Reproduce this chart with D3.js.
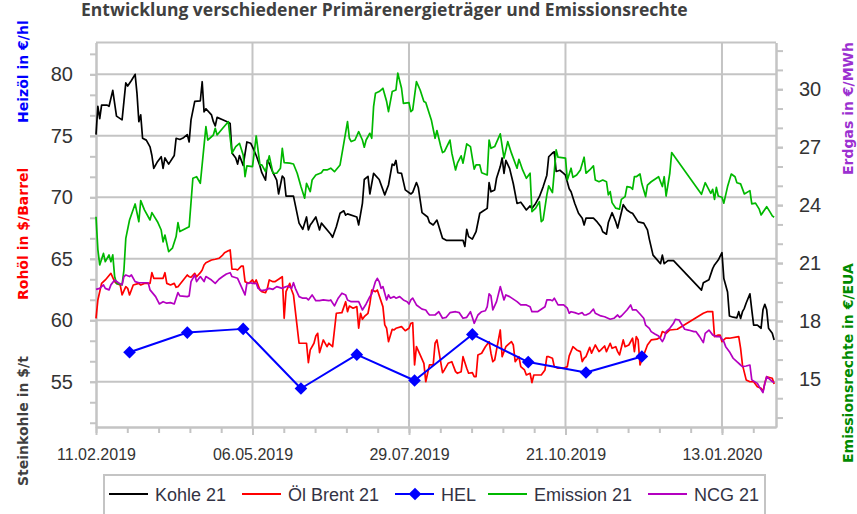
<!DOCTYPE html>
<html>
<head>
<meta charset="utf-8">
<script src="https://cdn.jsdelivr.net/npm/d3@7"></script>
<style>
body { margin: 0; background: #fff; }
</style>
</head>
<body>
<svg id="chart"></svg>
<script>
// values (date, value)
var kohle = [
  ["2019-02-11",75.1],["2019-02-12",77.4],["2019-02-13",76.4],["2019-02-14",77.5],["2019-02-17",77.5],["2019-02-18",77.4],
  ["2019-02-20",78.7],["2019-02-22",76.6],["2019-02-25",76.3],["2019-02-26",77.8],["2019-02-27",79.3],["2019-02-28",79.05],
  ["2019-03-02",79.5],["2019-03-04",80.0],["2019-03-05",78.45],["2019-03-06",76.15],["2019-03-07",76.7],["2019-03-08",74.8],
  ["2019-03-10",74.65],["2019-03-12",74.1],["2019-03-13",73.4],["2019-03-14",72.35],["2019-03-16",72.9],["2019-03-18",73.3],
  ["2019-03-19",72.35],["2019-03-20",73.2],["2019-03-22",72.7],["2019-03-25",73.4],["2019-03-26",74.8],["2019-03-28",74.7],
  ["2019-03-30",74.85],["2019-04-01",75.1],["2019-04-02",74.5],["2019-04-03",76.3],["2019-04-05",77.8],["2019-04-08",77.85],
  ["2019-04-09",79.4],["2019-04-10",76.95],["2019-04-11",77.2],["2019-04-14",76.7],["2019-04-15",76.15],["2019-04-16",75.8],
  ["2019-04-17",76.5],["2019-04-20",76.3],["2019-04-23",76.1],["2019-04-24",76.0],["2019-04-25",73.6],["2019-04-27",73.2],
  ["2019-04-28",72.7],["2019-04-29",73.4],["2019-05-01",72.6],["2019-05-03",74.5],["2019-05-05",74.4],["2019-05-06",74.1],
  ["2019-05-08",73.4],["2019-05-10",72.55],["2019-05-11",72.0],["2019-05-13",71.4],["2019-05-14",73.0],["2019-05-15",72.75],
  ["2019-05-17",72.0],["2019-05-19",71.4],["2019-05-20",70.27],["2019-05-22",71.73],["2019-05-23",71.55],["2019-05-24",70.1],
  ["2019-05-28",70.1],["2019-05-31",67.9],["2019-06-02",67.4],["2019-06-04",68.4],["2019-06-05",67.35],["2019-06-06",67.75],
  ["2019-06-07",67.95],["2019-06-09",68.4],["2019-06-11",67.35],["2019-06-12",67.9],["2019-06-17",67.0],["2019-06-18",66.75],
  ["2019-06-20",67.6],["2019-06-22",68.7],["2019-06-24",68.9],["2019-06-25",68.55],["2019-06-26",68.65],["2019-07-01",68.4],
  ["2019-07-02",67.75],["2019-07-04",69.5],["2019-07-05",71.45],["2019-07-07",71.7],["2019-07-08",70.27],["2019-07-10",71.95],
  ["2019-07-13",71.45],["2019-07-16",70.2],["2019-07-18",71.0],["2019-07-20",72.7],["2019-07-21",72.6],["2019-07-22",73.0],
  ["2019-07-23",72.0],["2019-07-25",71.95],["2019-07-27",70.6],["2019-07-30",70.27],["2019-07-31",70.4],["2019-08-02",71.2],
  ["2019-08-03",70.8],["2019-08-05",68.75],["2019-08-08",68.4],["2019-08-09",67.95],["2019-08-11",67.75],["2019-08-13",68.15],
  ["2019-08-16",66.67],["2019-08-18",66.5],["2019-08-27",66.5],["2019-08-28",66.0],["2019-08-29",67.4],["2019-08-30",66.8],
  ["2019-09-01",66.6],["2019-09-03",67.2],["2019-09-05",68.7],["2019-09-07",68.9],["2019-09-09",69.1],["2019-09-10",71.2],
  ["2019-09-11",70.45],["2019-09-13",70.6],["2019-09-14",71.55],["2019-09-16",72.5],["2019-09-17",73.2],["2019-09-18",71.95],
  ["2019-09-19",73.0],["2019-09-21",72.35],["2019-09-23",71.1],["2019-09-25",69.5],["2019-09-27",69.6],["2019-09-28",69.4],
  ["2019-09-30",68.97],["2019-10-02",69.3],["2019-10-03",69.1],["2019-10-05",69.5],["2019-10-07",70.05],["2019-10-09",70.85],
  ["2019-10-11",71.8],["2019-10-12",73.3],["2019-10-14",73.6],["2019-10-15",73.7],["2019-10-16",72.1],["2019-10-18",72.2],
  ["2019-10-20",71.95],["2019-10-21",71.8],["2019-10-23",70.7],["2019-10-24",70.45],["2019-10-26",69.5],["2019-10-28",68.7],
  ["2019-10-30",68.3],["2019-10-31",67.75],["2019-11-01",68.3],["2019-11-03",68.3],["2019-11-05",68.3],["2019-11-07",68.0],
  ["2019-11-09",67.6],["2019-11-10",67.2],["2019-11-12",67.0],["2019-11-13",67.95],["2019-11-15",68.75],["2019-11-17",68.0],
  ["2019-11-18",67.5],["2019-11-21",69.4],["2019-11-23",68.97],["2019-11-25",68.75],["2019-11-26",68.7],["2019-11-29",68.0],
  ["2019-12-02",67.9],["2019-12-04",67.35],["2019-12-05",66.6],["2019-12-07",65.3],["2019-12-09",64.95],["2019-12-11",64.6],
  ["2019-12-12",65.3],["2019-12-13",64.6],["2019-12-15",64.85],["2019-12-18",64.85],["2020-01-02",62.45],["2020-01-03",63.05],
  ["2020-01-06",63.3],["2020-01-08",64.2],["2020-01-09",64.5],["2020-01-11",64.9],["2020-01-13",65.5],["2020-01-14",63.4],
  ["2020-01-16",62.3],["2020-01-17",60.35],["2020-01-19",60.25],["2020-01-21",60.2],["2020-01-22",60.7],["2020-01-23",60.15],
  ["2020-01-24",60.7],["2020-01-25",60.97],["2020-01-26",61.4],["2020-01-28",62.15],["2020-01-29",60.85],["2020-01-30",59.6],
  ["2020-02-01",59.6],["2020-02-03",59.35],["2020-02-04",60.85],["2020-02-05",61.3],["2020-02-06",60.85],["2020-02-07",59.35],
  ["2020-02-09",58.95],["2020-02-10",58.4]
]

var brent = [
  ["2019-02-11",60.16],["2019-02-12",61.65],["2019-02-14",63.0],["2019-02-16",63.28],["2019-02-19",63.82],["2019-02-21",63.14],
  ["2019-02-22",63.0],["2019-02-24",62.87],["2019-02-25",62.06],["2019-02-27",62.73],["2019-02-28",62.6],["2019-03-01",62.06],
  ["2019-03-03",62.87],["2019-03-06",63.0],["2019-03-07",62.87],["2019-03-09",63.0],["2019-03-12",63.0],["2019-03-13",63.87],
  ["2019-03-14",63.41],["2019-03-17",63.41],["2019-03-19",63.41],["2019-03-20",63.87],["2019-03-21",63.0],["2019-03-23",62.87],
  ["2019-03-25",63.0],["2019-03-26",62.68],["2019-03-27",62.73],["2019-04-01",63.68],["2019-04-02",63.54],["2019-04-03",63.5],
  ["2019-04-05",63.82],["2019-04-06",63.54],["2019-04-08",63.87],["2019-04-09",64.09],["2019-04-10",64.5],["2019-04-11",64.68],
  ["2019-04-14",64.9],["2019-04-16",64.96],["2019-04-18",65.04],["2019-04-20",65.3],["2019-04-21",65.5],["2019-04-23",65.66],
  ["2019-04-24",65.72],["2019-04-25",64.15],["2019-04-27",64.15],["2019-04-28",64.09],["2019-04-30",64.41],["2019-05-01",64.41],
  ["2019-05-02",63.14],["2019-05-04",63.0],["2019-05-06",63.28],["2019-05-07",63.0],["2019-05-08",63.28],["2019-05-10",62.46],
  ["2019-05-11",62.33],["2019-05-13",62.24],["2019-05-14",62.6],["2019-05-15",63.28],["2019-05-17",63.14],["2019-05-18",63.14],
  ["2019-05-20",63.33],["2019-05-22",63.54],["2019-05-23",60.16],["2019-05-24",62.33],["2019-05-26",63.0],["2019-05-27",62.46],
  ["2019-05-28",62.06],["2019-05-31",58.13],["2019-06-02",58.13],["2019-06-04",58.13],["2019-06-05",56.55],["2019-06-06",57.59],
  ["2019-06-08",58.13],["2019-06-09",58.72],["2019-06-10",58.94],["2019-06-11",57.37],["2019-06-13",58.4],["2019-06-15",57.85],
  ["2019-06-16",58.13],["2019-06-18",57.85],["2019-06-20",60.57],["2019-06-23",60.62],["2019-06-25",61.51],["2019-06-26",60.7],
  ["2019-06-27",61.16],["2019-06-29",60.98],["2019-07-01",61.11],["2019-07-02",59.35],["2019-07-03",60.57],["2019-07-04",60.08],
  ["2019-07-05",60.29],["2019-07-07",60.57],["2019-07-08",61.33],["2019-07-09",62.46],["2019-07-11",62.33],["2019-07-12",62.46],
  ["2019-07-15",61.11],["2019-07-16",59.62],["2019-07-17",59.35],["2019-07-18",58.26],["2019-07-20",59.27],["2019-07-21",59.21],
  ["2019-07-22",59.35],["2019-07-25",59.48],["2019-07-27",59.15],["2019-07-29",59.35],["2019-07-30",59.76],["2019-07-31",59.8],
  ["2019-08-01",56.37],["2019-08-02",57.85],["2019-08-04",57.18],["2019-08-06",56.5],["2019-08-07",55.0],["2019-08-08",55.69],
  ["2019-08-09",56.37],["2019-08-11",56.37],["2019-08-12",58.13],["2019-08-13",58.4],["2019-08-16",55.74],["2019-08-17",55.96],
  ["2019-08-19",56.5],["2019-08-21",56.63],["2019-08-23",55.82],["2019-08-24",55.69],["2019-08-26",55.82],["2019-08-27",57.04],
  ["2019-08-29",56.1],["2019-08-30",55.69],["2019-09-01",55.74],["2019-09-02",55.41],["2019-09-03",55.41],["2019-09-04",57.18],
  ["2019-09-06",57.32],["2019-09-08",57.85],["2019-09-10",58.26],["2019-09-11",57.32],["2019-09-12",56.63],["2019-09-13",56.77],
  ["2019-09-14",57.59],["2019-09-16",59.21],["2019-09-17",57.04],["2019-09-19",57.85],["2019-09-20",57.99],["2019-09-22",58.26],
  ["2019-09-23",57.99],["2019-09-24",56.63],["2019-09-26",57.04],["2019-09-27",56.23],["2019-09-29",55.96],["2019-09-30",55.55],
  ["2019-10-02",55.69],["2019-10-03",54.93],["2019-10-04",55.55],["2019-10-06",55.55],["2019-10-08",55.55],["2019-10-10",55.96],
  ["2019-10-11",57.04],["2019-10-12",57.04],["2019-10-14",56.91],["2019-10-15",56.23],["2019-10-17",56.1],["2019-10-20",56.1],
  ["2019-10-22",56.23],["2019-10-23",57.1],["2019-10-25",57.85],["2019-10-27",57.59],["2019-10-29",57.45],["2019-10-30",56.63],
  ["2019-10-31",56.91],["2019-11-01",57.04],["2019-11-03",57.8],["2019-11-04",57.32],["2019-11-06",57.99],["2019-11-08",57.45],
  ["2019-11-09",57.59],["2019-11-11",57.91],["2019-11-12",57.45],["2019-11-14",58.13],["2019-11-15",57.72],["2019-11-17",57.85],
  ["2019-11-18",57.45],["2019-11-19",57.18],["2019-11-21",58.4],["2019-11-22",57.85],["2019-11-24",57.99],["2019-11-26",58.54],
  ["2019-11-27",57.45],["2019-11-28",58.67],["2019-11-29",58.4],["2019-11-30",56.37],["2019-12-02",57.18],["2019-12-04",57.99],
  ["2019-12-06",58.4],["2019-12-09",58.46],["2019-12-11",58.62],["2019-12-12",59.08],["2019-12-14",58.94],["2019-12-16",59.21],
  ["2019-12-20",59.27],["2020-01-03",60.57],["2020-01-05",60.7],["2020-01-08",60.7],["2020-01-09",58.67],["2020-01-11",58.8],
  ["2020-01-12",58.8],["2020-01-13",58.26],["2020-01-15",58.54],["2020-01-17",58.54],["2020-01-22",58.67],["2020-01-23",57.72],
  ["2020-01-24",56.37],["2020-01-26",55.15],["2020-01-28",55.0],["2020-01-30",55.0],["2020-02-01",54.6],["2020-02-03",54.47],
  ["2020-02-04",54.2],["2020-02-05",54.88],["2020-02-06",55.41],["2020-02-09",55.28],["2020-02-10",54.82]
]

var hel = [
  ["2019-03-01",57.4],["2019-04-01",59.0],["2019-05-01",59.3],["2019-06-01",54.45],["2019-07-01",57.2],
  ["2019-08-01",55.1],["2019-09-01",58.85],["2019-10-01",56.6],["2019-11-01",55.75],["2019-12-01",57.05]
]

var emission = [
  ["2019-02-11",23.4],["2019-02-12",21.7],["2019-02-13",20.9],["2019-02-15",21.5],["2019-02-16",21.07],["2019-02-18",21.42],
  ["2019-02-19",21.07],["2019-02-20",21.42],["2019-02-21",20.3],["2019-02-22",19.95],["2019-02-25",19.87],["2019-02-26",20.64],
  ["2019-02-27",22.28],["2019-03-01",23.23],["2019-03-04",24.06],["2019-03-06",23.14],["2019-03-07",24.23],["2019-03-09",23.75],
  ["2019-03-12",23.23],["2019-03-13",23.61],["2019-03-16",23.14],["2019-03-18",22.71],["2019-03-19",22.1],["2019-03-20",22.45],
  ["2019-03-22",21.59],["2019-03-24",21.77],["2019-03-26",22.37],["2019-03-27",23.09],["2019-03-28",22.63],["2019-04-02",22.88],
  ["2019-04-04",25.39],["2019-04-06",25.47],["2019-04-08",25.13],["2019-04-11",28.06],["2019-04-12",27.37],["2019-04-15",27.63],
  ["2019-04-16",27.98],["2019-04-17",27.63],["2019-04-20",27.98],["2019-04-23",28.32],["2019-04-25",26.69],["2019-04-27",27.03],
  ["2019-04-29",27.2],["2019-05-01",26.6],["2019-05-02",25.47],["2019-05-03",26.03],["2019-05-06",25.99],["2019-05-08",27.58],
  ["2019-05-10",26.08],["2019-05-11",26.08],["2019-05-13",25.73],["2019-05-15",26.55],["2019-05-17",25.65],["2019-05-19",25.65],
  ["2019-05-21",25.91],["2019-05-22",26.94],["2019-05-23",26.2],["2019-05-26",26.17],["2019-05-28",26.13],["2019-05-30",25.65],
  ["2019-06-01",24.96],["2019-06-03",24.36],["2019-06-04",25.13],["2019-06-06",24.7],["2019-06-07",25.3],["2019-06-09",25.56],
  ["2019-06-12",25.68],["2019-06-13",25.82],["2019-06-15",25.82],["2019-06-17",25.91],["2019-06-19",25.73],["2019-06-22",26.08],
  ["2019-06-24",27.2],["2019-06-26",28.32],["2019-06-27",27.46],["2019-06-28",27.29],["2019-06-30",27.37],["2019-07-02",27.8],
  ["2019-07-04",27.37],["2019-07-05",27.0],["2019-07-06",27.37],["2019-07-08",27.72],["2019-07-09",27.46],["2019-07-10",29.1],
  ["2019-07-11",29.79],["2019-07-13",29.88],["2019-07-15",30.05],["2019-07-17",29.36],["2019-07-18",28.84],["2019-07-20",29.88],
  ["2019-07-22",29.96],["2019-07-23",30.83],["2019-07-25",30.05],["2019-07-26",29.27],["2019-07-29",29.31],["2019-07-30",28.84],
  ["2019-07-31",28.93],["2019-08-02",30.39],["2019-08-04",29.96],["2019-08-06",29.36],["2019-08-07",29.31],["2019-08-10",28.41],
  ["2019-08-12",27.46],["2019-08-13",27.86],["2019-08-15",27.06],["2019-08-16",26.72],["2019-08-17",26.77],["2019-08-20",27.37],
  ["2019-08-21",26.69],["2019-08-23",25.82],["2019-08-24",26.17],["2019-08-26",26.55],["2019-08-27",26.17],["2019-08-29",27.17],
  ["2019-08-31",27.03],["2019-09-01",26.43],["2019-09-02",25.86],["2019-09-03",26.08],["2019-09-05",26.08],["2019-09-06",25.68],
  ["2019-09-09",25.56],["2019-09-10",27.37],["2019-09-11",26.94],["2019-09-13",27.03],["2019-09-16",27.69],["2019-09-18",26.43],
  ["2019-09-20",27.29],["2019-09-22",26.69],["2019-09-25",25.91],["2019-09-26",26.37],["2019-09-28",25.82],["2019-09-30",25.39],
  ["2019-10-02",25.65],["2019-10-03",23.66],["2019-10-05",23.84],["2019-10-07",24.18],["2019-10-08",23.14],["2019-10-09",23.23],
  ["2019-10-11",24.53],["2019-10-12",25.0],["2019-10-13",24.82],["2019-10-14",24.65],["2019-10-16",26.86],["2019-10-17",26.48],
  ["2019-10-21",26.43],["2019-10-22",25.3],["2019-10-24",25.91],["2019-10-25",25.44],["2019-10-27",25.56],["2019-10-29",25.82],
  ["2019-10-31",26.48],["2019-11-01",25.65],["2019-11-03",25.82],["2019-11-05",26.03],["2019-11-06",25.3],["2019-11-08",25.21],
  ["2019-11-10",25.3],["2019-11-12",25.21],["2019-11-13",24.53],["2019-11-14",24.7],["2019-11-15",24.13],["2019-11-17",23.84],
  ["2019-11-19",23.79],["2019-11-20",24.3],["2019-11-22",24.44],["2019-11-23",24.96],["2019-11-25",24.92],["2019-11-26",24.82],
  ["2019-11-27",25.47],["2019-11-28",25.47],["2019-11-30",25.61],["2019-12-01",25.1],["2019-12-03",24.44],["2019-12-04",25.04],
  ["2019-12-06",25.21],["2019-12-10",25.47],["2019-12-12",24.96],["2019-12-13",25.47],["2019-12-14",24.47],["2019-12-16",25.65],
  ["2019-12-17",26.72],["2020-01-02",24.56],["2020-01-04",25.16],["2020-01-07",24.61],["2020-01-08",24.82],["2020-01-09",24.3],
  ["2020-01-10",24.92],["2020-01-11",24.47],["2020-01-13",24.41],["2020-01-14",24.1],["2020-01-16",24.96],["2020-01-18",25.61],
  ["2020-01-20",25.47],["2020-01-21",25.16],["2020-01-23",25.1],["2020-01-25",24.58],["2020-01-28",24.75],["2020-01-29",24.06],
  ["2020-01-31",24.1],["2020-02-02",23.79],["2020-02-03",23.49],["2020-02-06",23.92],["2020-02-08",23.61],["2020-02-09",23.44],
  ["2020-02-10",23.37]
]

var ncg = [
  ["2019-02-11",19.64],["2019-02-13",19.69],["2019-02-15",19.87],["2019-02-16",19.69],["2019-02-18",19.61],["2019-02-19",19.87],
  ["2019-02-21",20.12],["2019-02-23",19.98],["2019-02-25",19.87],["2019-02-26",20.3],["2019-02-27",20.38],["2019-03-01",20.3],
  ["2019-03-02",20.38],["2019-03-04",20.04],["2019-03-06",19.98],["2019-03-09",19.98],["2019-03-11",19.98],["2019-03-12",19.61],
  ["2019-03-15",19.26],["2019-03-17",18.88],["2019-03-19",19.0],["2019-03-21",18.92],["2019-03-23",18.95],["2019-03-25",18.88],
  ["2019-03-27",19.47],["2019-03-28",19.3],["2019-04-01",19.26],["2019-04-02",19.3],["2019-04-03",20.04],["2019-04-05",20.38],
  ["2019-04-06",20.04],["2019-04-08",20.3],["2019-04-10",20.04],["2019-04-11",20.3],["2019-04-14",20.12],["2019-04-16",19.95],
  ["2019-04-18",20.16],["2019-04-20",20.3],["2019-04-22",20.43],["2019-04-24",20.5],["2019-04-25",20.3],["2019-04-28",20.21],
  ["2019-04-30",19.78],["2019-05-02",19.35],["2019-05-03",19.95],["2019-05-05",19.98],["2019-05-06",19.95],["2019-05-08",19.95],
  ["2019-05-09",19.69],["2019-05-11",19.57],["2019-05-13",19.61],["2019-05-15",19.69],["2019-05-17",19.64],["2019-05-19",19.78],
  ["2019-05-22",19.69],["2019-05-23",19.74],["2019-05-25",19.81],["2019-05-27",19.69],["2019-05-28",19.98],["2019-05-29",19.69],
  ["2019-05-31",19.26],["2019-06-02",19.18],["2019-06-04",19.18],["2019-06-05",19.09],["2019-06-07",19.35],["2019-06-09",19.05],
  ["2019-06-11",19.05],["2019-06-13",19.09],["2019-06-16",19.05],["2019-06-17",19.09],["2019-06-19",18.78],["2019-06-21",19.18],
  ["2019-06-23",19.44],["2019-06-25",19.35],["2019-06-26",19.09],["2019-06-28",19.0],["2019-07-01",19.0],["2019-07-02",19.0],
  ["2019-07-04",18.57],["2019-07-06",18.88],["2019-07-08",19.26],["2019-07-09",19.4],["2019-07-11",20.04],["2019-07-12",20.21],
  ["2019-07-13",20.04],["2019-07-14",19.69],["2019-07-15",19.78],["2019-07-17",19.09],["2019-07-18",19.35],["2019-07-19",19.18],
  ["2019-07-21",19.26],["2019-07-22",19.18],["2019-07-24",19.26],["2019-07-26",19.09],["2019-07-28",19.0],["2019-07-29",18.88],
  ["2019-07-30",19.09],["2019-07-31",19.18],["2019-08-02",18.83],["2019-08-05",18.61],["2019-08-07",18.57],["2019-08-08",18.43],
  ["2019-08-09",18.31],["2019-08-12",18.31],["2019-08-14",18.48],["2019-08-16",18.14],["2019-08-18",18.19],["2019-08-20",18.43],
  ["2019-08-23",18.48],["2019-08-25",18.43],["2019-08-27",18.14],["2019-08-29",18.19],["2019-08-31",18.48],["2019-09-01",18.19],
  ["2019-09-02",17.88],["2019-09-04",18.31],["2019-09-06",18.48],["2019-09-08",18.53],["2019-09-09",18.74],["2019-09-10",19.4],
  ["2019-09-11",19.3],["2019-09-12",18.57],["2019-09-14",19.0],["2019-09-16",19.78],["2019-09-18",19.09],["2019-09-19",19.35],
  ["2019-09-21",19.26],["2019-09-23",19.13],["2019-09-25",19.0],["2019-09-27",18.83],["2019-09-28",18.83],["2019-09-30",18.83],
  ["2019-10-02",18.74],["2019-10-03",18.48],["2019-10-06",18.48],["2019-10-08",18.61],["2019-10-10",18.74],["2019-10-11",19.09],
  ["2019-10-13",19.09],["2019-10-14",19.05],["2019-10-15",19.18],["2019-10-17",18.83],["2019-10-20",18.83],["2019-10-22",18.66],
  ["2019-10-23",18.4],["2019-10-24",18.48],["2019-10-26",18.43],["2019-10-28",18.36],["2019-10-30",18.43],["2019-10-31",18.31],
  ["2019-11-01",18.31],["2019-11-03",18.4],["2019-11-05",18.61],["2019-11-06",18.4],["2019-11-09",18.26],["2019-11-11",18.22],
  ["2019-11-14",18.09],["2019-11-16",18.14],["2019-11-18",18.31],["2019-11-19",18.19],["2019-11-20",18.26],["2019-11-23",18.57],
  ["2019-11-25",18.83],["2019-11-26",18.57],["2019-11-28",18.57],["2019-11-30",18.36],["2019-12-02",18.14],["2019-12-03",17.79],
  ["2019-12-05",17.62],["2019-12-06",17.45],["2019-12-08",17.33],["2019-12-10",17.22],["2019-12-12",16.93],["2019-12-13",17.11],
  ["2019-12-14",17.45],["2019-12-16",17.62],["2019-12-18",17.88],["2019-12-19",18.09],["2019-12-21",18.05],["2019-12-22",17.88],
  ["2019-12-24",17.57],["2019-12-26",17.53],["2019-12-29",17.45],["2019-12-30",17.45],["2020-01-01",17.19],["2020-01-03",16.88],
  ["2020-01-04",17.36],["2020-01-06",17.53],["2020-01-08",17.28],["2020-01-10",17.19],["2020-01-12",17.19],["2020-01-14",16.93],
  ["2020-01-15",16.67],["2020-01-17",16.41],["2020-01-19",16.07],["2020-01-21",15.89],["2020-01-23",15.72],["2020-01-24",15.63],
  ["2020-01-26",15.67],["2020-01-28",15.72],["2020-01-29",14.95],["2020-02-01",14.77],["2020-02-02",14.6],["2020-02-04",14.29],
  ["2020-02-05",14.77],["2020-02-06",15.12],["2020-02-08",14.95],["2020-02-09",14.86],["2020-02-10",14.81]
]

var xTicks = ["2019-02-11", "2019-05-06", "2019-07-29", "2019-10-21", "2020-01-13"]
var leftTicks = [55, 60, 65, 70, 75, 80]
var rightTicks = [15, 18, 21, 24, 27, 30]
var legendNames = ["Kohle 21", "Öl Brent 21", "HEL", "Emission 21", "NCG 21"]

var width = 857, height = 514
var plot = {left: 96, right: 776, top: 42.5, bottom: 427}
var grey = "#c4c4c4"
var textCol = "#333333"
var colors = {kohle: "#000000", brent: "#ff0000", hel: "#0000ff", emission: "#00b800", ncg: "#b400c0"}

var parse = d3.timeParse("%Y-%m-%d")

var svg = d3.select("#chart")
    .attr("width", width)
    .attr("height", height)
    .style("font-family", "'Liberation Sans', Arial, sans-serif")

var x = d3.scaleTime()
    .domain([parse("2019-02-11"), parse("2020-02-11")])
    .range([plot.left, plot.right])
var yL = d3.scaleLinear()
    .domain([51.32, 82.59])
    .range([plot.bottom, plot.top])
var yR = d3.scaleLinear()
    .domain([12.51, 32.42])
    .range([plot.bottom, plot.top])

// grid
var grid = svg.append("g")
leftTicks.forEach(v => {
    grid.append("line")
        .attr("x1", plot.left).attr("x2", plot.right)
        .attr("y1", yL(v)).attr("y2", yL(v))
        .attr("stroke", grey).attr("stroke-width", 2)
})
xTicks.slice(1).forEach(t => {
    grid.append("line")
        .attr("x1", x(parse(t))).attr("x2", x(parse(t)))
        .attr("y1", plot.top).attr("y2", plot.bottom)
        .attr("stroke", grey).attr("stroke-width", 2)
})
grid.append("line")
    .attr("x1", plot.left).attr("x2", plot.right)
    .attr("y1", plot.top).attr("y2", plot.top)
    .attr("stroke", grey).attr("stroke-width", 2)

// minor tick values
var leftMinor = d3.range(0, 19).map(i => 51 + 2 / 3 + i * 5 / 3).filter(v => v > yL.domain()[0] && v < yL.domain()[1])
var rightMinor = d3.range(13, 33)
var xMajor = xTicks.map(parse)
var step = xMajor[1] - xMajor[0]
var xMinor = d3.range(0, 26).map(i => new Date(+xMajor[0] + i * step / 5)).filter(d => d <= x.domain()[1])

function styleAxis(g) {
    g.select(".domain").attr("stroke", grey).attr("stroke-width", 2)
    g.selectAll(".tick line").attr("stroke", grey).attr("stroke-width", 2)
    g.selectAll(".tick text").attr("fill", textCol)
}

// left axis
svg.append("g")
    .attr("transform", `translate(${plot.left},0)`)
    .call(d3.axisLeft(yL).tickValues(leftMinor).tickSize(6).tickSizeOuter(0).tickFormat(""))
    .call(styleAxis)
svg.append("g")
    .attr("transform", `translate(${plot.left},0)`)
    .call(d3.axisLeft(yL).tickValues(leftTicks).tickSize(6).tickSizeOuter(0).tickPadding(17))
    .call(styleAxis)
    .selectAll("text").style("font-size", "20px").style("font-family", "'Liberation Sans', Arial, sans-serif")

// right axis
svg.append("g")
    .attr("transform", `translate(${plot.right},0)`)
    .call(d3.axisRight(yR).tickValues(rightMinor).tickSize(7).tickSizeOuter(0).tickFormat(""))
    .call(styleAxis)
svg.append("g")
    .attr("transform", `translate(${plot.right},0)`)
    .call(d3.axisRight(yR).tickValues(rightTicks).tickSize(7).tickSizeOuter(0).tickPadding(16))
    .call(styleAxis)
    .selectAll("text").style("font-size", "20px").style("font-family", "'Liberation Sans', Arial, sans-serif")

// bottom axis
var fmt = d3.timeFormat("%d.%m.%Y")
svg.append("g")
    .attr("transform", `translate(0,${plot.bottom})`)
    .call(d3.axisBottom(x).tickValues(xMinor).tickSize(6).tickSizeOuter(0).tickFormat(""))
    .call(styleAxis)
svg.append("g")
    .attr("transform", `translate(0,${plot.bottom})`)
    .call(d3.axisBottom(x).tickValues(xMajor).tickSize(8).tickSizeOuter(0).tickPadding(14).tickFormat(fmt))
    .call(styleAxis)
    .selectAll("text").style("font-size", "16px").style("font-family", "'Liberation Sans', Arial, sans-serif")

// series
var lineL = d3.line().x(d => x(parse(d[0]))).y(d => yL(d[1]))
var lineR = d3.line().x(d => x(parse(d[0]))).y(d => yR(d[1]))

var series = svg.append("g").attr("fill", "none").attr("stroke-linejoin", "round")
series.append("path").attr("d", lineL(kohle)).attr("stroke", colors.kohle).attr("stroke-width", 1.7)
series.append("path").attr("d", lineL(brent)).attr("stroke", colors.brent).attr("stroke-width", 1.7)
series.append("path").attr("d", lineL(hel)).attr("stroke", colors.hel).attr("stroke-width", 2)
var diamond = d3.symbol().type(d3.symbolSquare).size(80)
svg.append("g").selectAll("path")
    .data(hel)
    .join("path")
    .attr("d", diamond)
    .attr("transform", d => `translate(${x(parse(d[0]))},${yL(d[1])}) rotate(45)`)
    .attr("fill", colors.hel)
series.append("path").attr("d", lineR(emission)).attr("stroke", colors.emission).attr("stroke-width", 1.7)
series.append("path").attr("d", lineR(ncg)).attr("stroke", colors.ncg).attr("stroke-width", 1.7)

// title
svg.append("text")
    .text("Entwicklung verschiedener Primärenergieträger und Emissionsrechte")
    .attr("x", 81).attr("y", 16)
    .style("font-family", "'Open Sans', sans-serif")
    .style("font-weight", "bold")
    .style("font-size", "17.5px")
    .attr("fill", "#404040")

// axis titles
var axisTitles = [
    ["Heizöl in €/hl", "#0000ff", 28, 123],
    ["Rohöl in $/Barrel", "#ff0000", 28, 300],
    ["Steinkohle in $/t", "#404040", 28, 486],
    ["Erdgas in €/MWh", "#9b30d0", 853, 175],
    ["Emissionsrechte in €/EUA", "#008a00", 853, 463]
]
axisTitles.forEach(d => {
    svg.append("text")
        .text(d[0])
        .attr("transform", `translate(${d[2]},${d[3]}) rotate(-90)`)
        .style("font-family", "'DejaVu Sans', sans-serif")
        .style("font-weight", "bold")
        .style("font-size", "14px")
        .attr("fill", d[1])
})

// legend
var legend = svg.append("g")
legend.append("rect")
    .attr("x", 104).attr("y", 475)
    .attr("width", 661).attr("height", 60)
    .attr("fill", "#fff").attr("stroke", grey).attr("stroke-width", 2)
var legendColors = [colors.kohle, colors.brent, colors.hel, colors.emission, colors.ncg]
var legendStart = [109, 242, 395, 488, 648]
legendNames.forEach((name, i) => {
    var lx = legendStart[i]
    legend.append("line")
        .attr("x1", lx).attr("x2", lx + 39)
        .attr("y1", 494).attr("y2", 494)
        .attr("stroke", legendColors[i]).attr("stroke-width", 2)
    if (name == "HEL") {
        legend.append("path")
            .attr("d", diamond)
            .attr("transform", `translate(${lx + 20},494) rotate(45)`)
            .attr("fill", colors.hel)
    }
    legend.append("text")
        .text(name)
        .attr("x", lx + 46).attr("y", 501)
        .style("font-size", "18px")
        .attr("fill", "#333344")
})
</script>
</body>
</html>
